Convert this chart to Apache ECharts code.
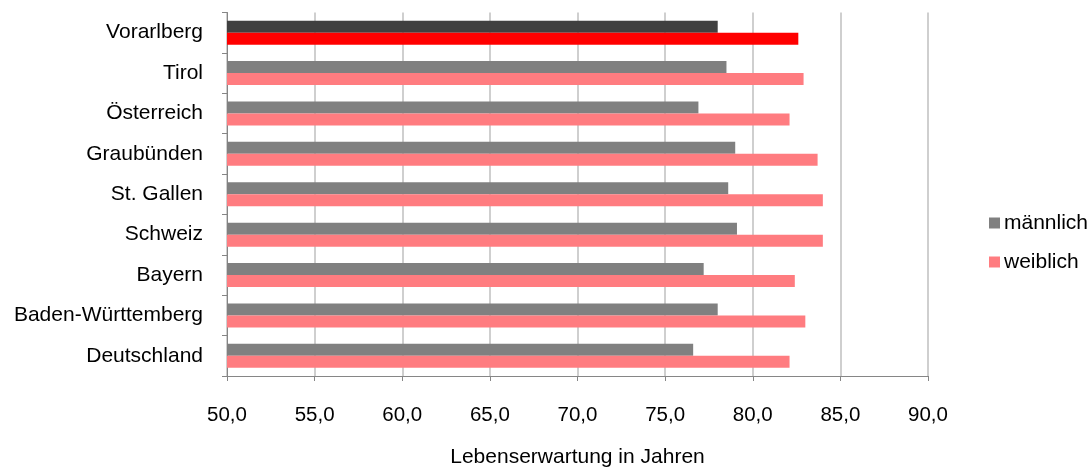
<!DOCTYPE html>
<html>
<head>
<meta charset="utf-8">
<script src="https://cdn.jsdelivr.net/npm/echarts@6/dist/echarts.min.js"></script>
<style>
  html, body { margin: 0; padding: 0; background: #fff; }
  #chart { width: 1090px; height: 469px; }
</style>
</head>
<body>
<div id="chart"></div>
<script>
// Life expectancy by region, top-to-bottom order
const regions = ['Vorarlberg', 'Tirol', 'Österreich', 'Graubünden', 'St. Gallen', 'Schweiz', 'Bayern', 'Baden-Württemberg', 'Deutschland'];
const maleValues = [78.0, 78.5, 76.9, 79.0, 78.6, 79.1, 77.2, 78.0, 76.6];
const femaleValues = [82.6, 82.9, 82.1, 83.7, 84.0, 84.0, 82.4, 83.0, 82.1];
const seriesNames = ['männlich', 'weiblich'];
const highlightRegion = 'Vorarlberg';

const FONT = 'Liberation Sans, Arial, sans-serif';
const colors = { male: '#808080', female: '#FF7C80', maleHi: '#404040', femaleHi: '#FF0000' };

function toData(values, base, hi) {
  return values.map((v, i) => ({
    value: v,
    itemStyle: { color: regions[i] === highlightRegion ? hi : base }
  }));
}

const chart = echarts.init(document.getElementById('chart'), null, { renderer: 'canvas' });
chart.setOption({
  animation: false,
  textStyle: { fontFamily: FONT },
  grid: { left: 227, right: 162, top: 12.5, bottom: 93, containLabel: false, outerBoundsMode: 'none' },
  legend: {
    orient: 'vertical',
    left: 989,
    top: 211,
    padding: 0,
    itemWidth: 11,
    itemHeight: 11,
    itemGap: 15,
    icon: 'rect',
    textStyle: { fontFamily: FONT, fontSize: 21, lineHeight: 24, color: '#000', padding: [0, 0, 0, -1] },
    data: seriesNames
  },
  xAxis: {
    type: 'value',
    min: 50,
    max: 90,
    interval: 5,
    name: 'Lebenserwartung in Jahren',
    nameLocation: 'middle',
    nameGap: 71,
    nameTextStyle: { fontFamily: FONT, fontSize: 21, color: '#000' },
    axisLine: { show: true, lineStyle: { color: '#868686', width: 1 } },
    axisTick: { show: true, length: 5, lineStyle: { color: '#868686' } },
    axisLabel: {
      margin: 29,
      fontFamily: FONT,
      fontSize: 20.5,
      color: '#000',
      formatter: v => v.toFixed(1).replace('.', ',')
    },
    splitLine: { show: true, lineStyle: { color: '#BFBFBF', width: 1.5 } }
  },
  yAxis: {
    type: 'category',
    inverse: true,
    data: regions,
    axisLine: { show: true, lineStyle: { color: '#868686', width: 1 } },
    axisTick: { show: true, length: 5, lineStyle: { color: '#868686' } },
    axisLabel: { margin: 24, fontFamily: FONT, fontSize: 21, color: '#000' },
    splitLine: { show: false }
  },
  series: [
    {
      name: seriesNames[0],
      type: 'bar',
      data: toData(maleValues, colors.male, colors.maleHi),
      itemStyle: { color: colors.male },
      barWidth: 12,
      barGap: '0%',
      barCategoryGap: '41%'
    },
    {
      name: seriesNames[1],
      type: 'bar',
      data: toData(femaleValues, colors.female, colors.femaleHi),
      itemStyle: { color: colors.female },
      barWidth: 12,
      barGap: '0%',
      barCategoryGap: '41%'
    }
  ]
});
</script>
</body>
</html>
